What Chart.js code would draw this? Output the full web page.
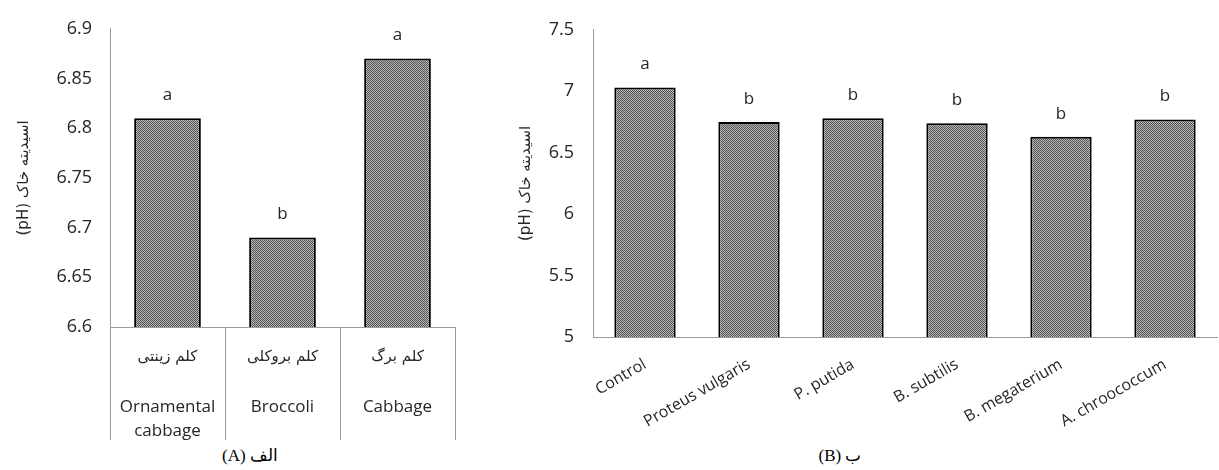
<!DOCTYPE html>
<html><head><meta charset="utf-8">
<script src="https://cdn.jsdelivr.net/npm/chart.js@4/dist/chart.umd.min.js"></script>
<style>
body{margin:0;background:#fff;width:1219px;height:470px;position:relative;overflow:hidden;}
#wa{position:absolute;left:0;top:0;width:460px;height:440px;}
#wb{position:absolute;left:470px;top:0;width:749px;height:440px;}
.cap{position:absolute;top:446px;font-family:'Liberation Serif',serif;font-size:17px;color:#000;text-align:center;width:200px;line-height:20px;}
</style></head><body>
<div id="wa"><canvas id="ca"></canvas></div>
<div id="wb"><canvas id="cb"></canvas></div>
<div class="cap" style="left:150px">(A) الف</div>
<div class="cap" style="left:740px">(B) ب</div>
<script>
// ---- data ----
const cropsFa = ['کلم زینتی', 'کلم بروکلی', 'کلم برگ'];
const cropsEn = [['Ornamental', 'cabbage'], ['Broccoli'], ['Cabbage']];
const cropPH = [6.81, 6.69, 6.87];
const cropLetters = ['a', 'b', 'a'];
const yAxisA = [6.6, 6.9, 0.05];

const strains = ['Control', 'Proteus vulgaris', 'P. putida', 'B. subtilis', 'B. megaterium', 'A. chroococcum'];
const strainPH = [7.03, 6.75, 6.78, 6.74, 6.63, 6.77];
const strainLetters = ['a', 'b', 'b', 'b', 'b', 'b'];
const yAxisB = [5, 7.5, 0.5];

const yTitle = '(pH) اسیدیته خاک';

// ---- styling ----
const TXT = '#262626';
const AX = '#9a9a9a';
const SANS = "'Open Sans', sans-serif";

function makePattern() {
  const c = document.createElement('canvas');
  c.width = 2; c.height = 2;
  const g = c.getContext('2d');
  g.fillStyle = '#b4b4b4'; g.fillRect(0, 0, 2, 2);
  g.fillStyle = '#555555'; g.fillRect(0, 0, 1, 1); g.fillRect(1, 1, 1, 1);
  return g.createPattern(c, 'repeat');
}
const pat = makePattern();

function lettersPlugin(letters) {
  return {
    id: 'letters',
    afterDatasetsDraw(chart) {
      const ctx = chart.ctx;
      ctx.save();
      ctx.font = '17px ' + SANS;
      ctx.fillStyle = TXT;
      ctx.textAlign = 'center';
      ctx.textBaseline = 'middle';
      chart.getDatasetMeta(0).data.forEach((bar, i) => {
        ctx.fillText(letters[i], bar.x, bar.y - 23);
      });
      ctx.restore();
    }
  };
}

const catLabelsPlugin = {
  id: 'catLabels',
  afterDraw(chart) {
    const ctx = chart.ctx;
    const xs = chart.scales.x;
    const b = chart.chartArea.bottom;
    ctx.save();
    ctx.fillStyle = TXT;
    ctx.textAlign = 'center';
    ctx.textBaseline = 'middle';
    cropsFa.forEach((t, i) => {
      const x = xs.getPixelForValue(i);
      ctx.font = "15px 'DejaVu Sans', sans-serif";
      ctx.fillText(t, x, b + 30);
      ctx.font = '17px ' + SANS;
      cropsEn[i].forEach((ln, k) => ctx.fillText(ln, x, b + 80 + k * 24));
    });
    ctx.restore();
  }
};

const fmt = v => String(+(+v).toFixed(2));

new Chart(document.getElementById('ca'), {
  type: 'bar',
  data: {
    labels: cropsFa,
    datasets: [{
      data: cropPH,
      backgroundColor: pat,
      borderColor: '#000',
      borderWidth: 2,
      barPercentage: 0.58,
      categoryPercentage: 1
    }]
  },
  options: {
    responsive: true, maintainAspectRatio: false, animation: false,
    layout: { padding: { top: 20, right: 5, left: 0, bottom: 0 } },
    plugins: { legend: { display: false }, tooltip: { enabled: false } },
    scales: {
      x: {
        grid: { offset: true, drawOnChartArea: false, drawTicks: true, tickLength: 113, color: AX, lineWidth: 1 },
        border: { display: true, color: AX },
        ticks: { display: false },
        afterFit(s) { s.height = 113; }
      },
      y: {
        min: yAxisA[0], max: yAxisA[1],
        ticks: { stepSize: yAxisA[2], callback: fmt, color: TXT, font: { size: 18, family: SANS }, padding: 18 },
        grid: { display: true, drawOnChartArea: false, drawTicks: false },
        border: { display: true, color: AX },
        title: { display: true, text: yTitle, color: TXT, font: { size: 15, family: "'DejaVu Sans', sans-serif" }, padding: { top: 15, bottom: 0 } },
        afterFit(s) { s.width = 110; }
      }
    }
  },
  plugins: [lettersPlugin(cropLetters), catLabelsPlugin]
});

new Chart(document.getElementById('cb'), {
  type: 'bar',
  data: {
    labels: strains,
    datasets: [{
      data: strainPH,
      backgroundColor: pat,
      borderColor: '#000',
      borderWidth: 2,
      barPercentage: 0.59,
      categoryPercentage: 1
    }]
  },
  options: {
    responsive: true, maintainAspectRatio: false, animation: false,
    layout: { padding: { top: 19, right: 2, left: 0, bottom: 0 } },
    plugins: { legend: { display: false }, tooltip: { enabled: false } },
    scales: {
      x: {
        grid: { display: true, drawOnChartArea: false, drawTicks: false },
        border: { display: true, color: AX },
        ticks: { autoSkip: false, minRotation: 30, maxRotation: 30, color: TXT, font: { size: 16, family: SANS }, padding: 18 },
        afterFit(s) { s.height = 103; }
      },
      y: {
        min: yAxisB[0], max: yAxisB[1],
        ticks: { stepSize: yAxisB[2], callback: fmt, color: TXT, font: { size: 18, family: SANS }, padding: 19 },
        grid: { display: true, drawOnChartArea: false, drawTicks: false },
        border: { display: true, color: AX },
        title: { display: true, text: yTitle, color: TXT, font: { size: 15, family: "'DejaVu Sans', sans-serif" }, padding: { top: 47, bottom: 0 } },
        afterFit(s) { s.width = 123; }
      }
    }
  },
  plugins: [lettersPlugin(strainLetters)]
});
</script>
</body></html>
